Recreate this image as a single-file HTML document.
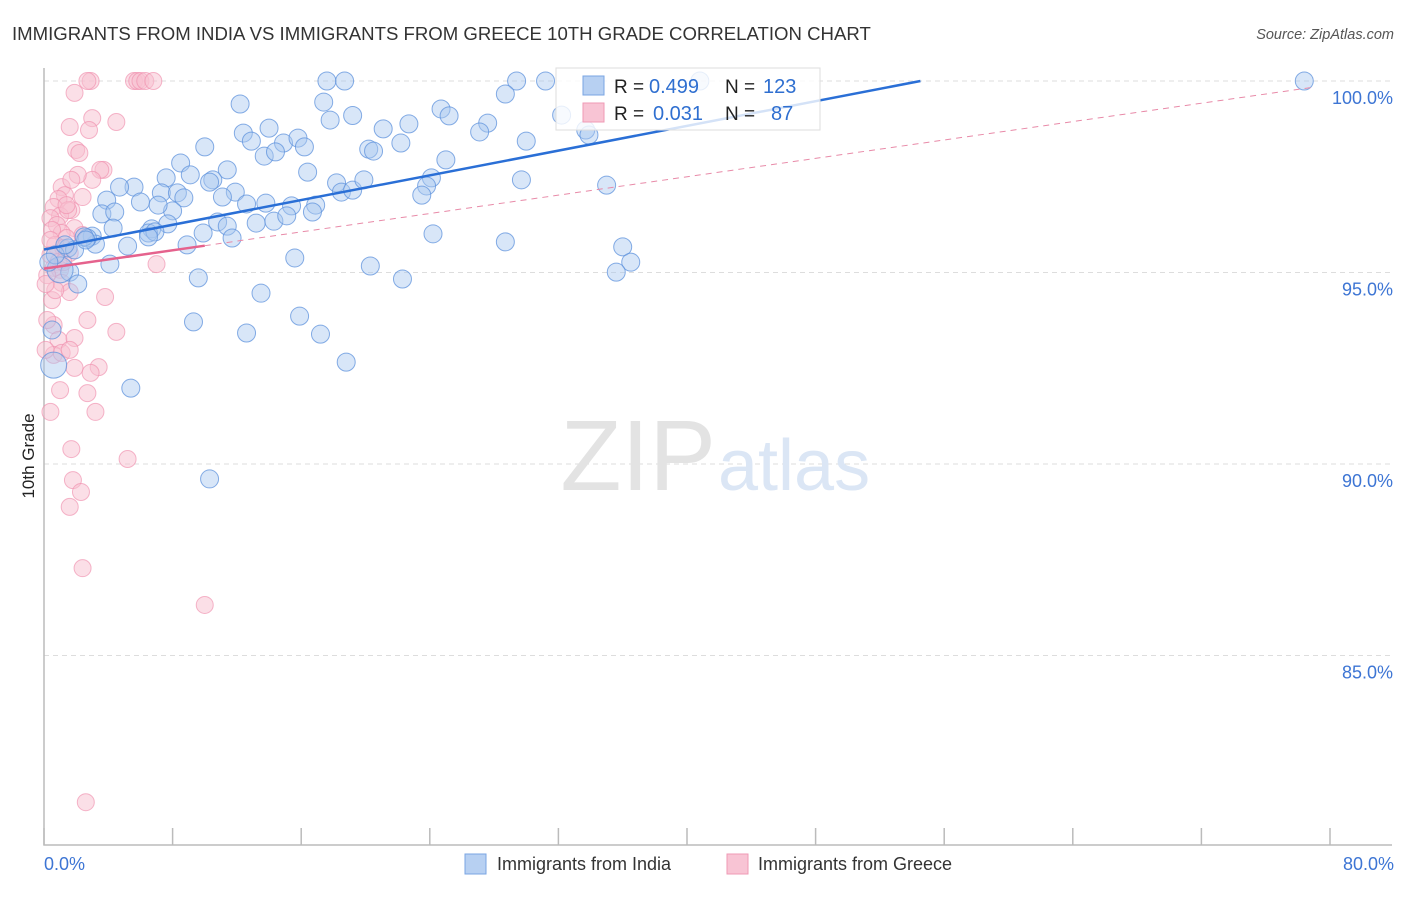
<!DOCTYPE html>
<html><head><meta charset="utf-8"><style>
body{margin:0;background:#fff;font-family:"Liberation Sans",sans-serif}
svg text{font-family:"Liberation Sans",sans-serif}
</style></head><body>
<svg id="c" width="1406" height="892" xmlns="http://www.w3.org/2000/svg">
<text x="12" y="40" font-size="18.6" fill="#333">IMMIGRANTS FROM INDIA VS IMMIGRANTS FROM GREECE 10TH GRADE CORRELATION CHART</text>
<text x="1394" y="39" font-size="14.5" fill="#555" font-style="italic" text-anchor="end">Source: ZipAtlas.com</text>
<g id="grid"></g>
<text x="716" y="490" font-size="100" fill="#e3e3e3" text-anchor="end" font-family="Liberation Serif">ZIP</text>
<text x="718" y="490" font-size="72" fill="#dbe6f5">atlas</text>
<g id="pts"></g>
<g id="lines"></g>
<text transform="translate(34,456) rotate(-90)" font-size="17" fill="#222" text-anchor="middle">10th Grade</text>
<g>
<rect x="556" y="68" width="264" height="62" fill="#fff" fill-opacity="0.8" stroke="#ddd"/>
<rect x="583" y="76" width="21" height="19" fill="#b7d0f2" stroke="#7aa5e3"/>
<rect x="583" y="103" width="21" height="19" fill="#f8c4d4" stroke="#ef9ab5"/>
<text x="614" y="93" font-size="19" fill="#222">R =</text>
<text x="649" y="93" font-size="20" fill="#2f6fd0">0.499</text>
<text x="725" y="93" font-size="19" fill="#222">N =</text>
<text x="763" y="93" font-size="20" fill="#2f6fd0">123</text>
<text x="614" y="120" font-size="19" fill="#222">R =</text>
<text x="653" y="120" font-size="20" fill="#2f6fd0">0.031</text>
<text x="725" y="120" font-size="19" fill="#222">N =</text>
<text x="771" y="120" font-size="20" fill="#2f6fd0">87</text>
</g>
<g>
<rect x="465" y="854" width="21" height="20" fill="#b7d0f2" stroke="#7aa5e3"/>
<text x="497" y="870" font-size="18" fill="#333">Immigrants from India</text>
<rect x="727" y="854" width="21" height="20" fill="#f8c4d4" stroke="#ef9ab5"/>
<text x="758" y="870" font-size="18" fill="#333">Immigrants from Greece</text>
</g>
</svg>
<script>
const yTicks=[100,95,90,85];
const yTickLabels=["100.0%","95.0%","90.0%","85.0%"];
const xTickVals=[0,8,16,24,32,40,48,56,64,72,80];
const xEndLabels=["0.0%","80.0%"];
const indiaX=[17.6,18.7,29.4,31.2,40.8,78.4,12.2,17.4,19.2,17.8,24.7,25.2,28.7,27.6,21.1,22.7,14.0,12.4,12.9,14.9,15.8,16.2,13.7,14.4,10.0,20.2,20.5,22.2,27.1,30.0,33.7,33.9,32.2,25.0,8.5,11.4,16.4,9.1,7.6,10.5,10.3,11.9,7.3,8.3,8.7,11.1,5.6,4.7,3.9,3.6,4.4,6.0,8.0,7.1,18.2,18.5,19.2,19.9,24.1,23.8,23.5,29.7,35.0,13.8,15.4,16.9,16.7,12.6,10.8,11.4,13.2,14.3,15.1,7.7,6.7,6.5,6.9,4.3,3.0,3.2,5.2,8.9,11.7,9.9,6.5,24.2,28.7,36.0,2.7,1.5,1.9,2.5,4.1,15.6,20.3,22.3,36.5,35.6,9.6,1.6,2.1,13.5,9.3,15.9,12.6,17.2,18.8,5.4,10.3,0.5,0.6,1.0,0.7,2.6,1.3,0.3];
const indiaY=[100,100,100,100,100,100,99.4,99.45,99.1,98.98,99.27,99.09,99.66,98.9,98.75,98.88,98.77,98.64,98.43,98.38,98.51,98.28,98.04,98.15,98.28,98.22,98.17,98.38,98.67,98.43,98.72,98.59,99.11,97.94,97.86,97.68,97.62,97.55,97.47,97.42,97.36,97.1,97.08,97.08,96.95,96.97,97.23,97.23,96.89,96.53,96.58,96.84,96.61,96.76,97.34,97.1,97.15,97.42,97.47,97.26,97.02,97.42,97.28,96.81,96.74,96.76,96.58,96.79,96.32,96.21,96.29,96.34,96.48,96.27,96.14,96.03,96.06,96.16,95.95,95.74,95.69,95.72,95.9,96.03,95.93,96.01,95.8,95.67,95.9,95.64,95.59,95.93,95.22,95.38,95.17,94.83,95.27,95.01,94.86,95.01,94.7,94.46,93.71,93.86,93.42,93.39,92.66,91.98,89.61,93.5,92.58,95.07,95.46,95.85,95.72,95.27];
const greeceX=[2.9,2.7,5.6,5.8,6.0,6.3,6.8,1.9,1.6,3.0,2.8,4.5,2.0,2.2,3.7,3.5,3.0,2.1,1.1,1.3,2.4,0.9,1.7,0.6,1.0,1.5,0.4,0.8,1.9,1.1,0.5,1.4,0.7,1.2,1.6,0.4,0.9,0.6,1.0,0.2,1.1,3.8,1.6,2.7,4.5,0.6,0.9,1.9,0.6,1.1,1.6,3.4,2.9,1.9,1.0,2.7,3.2,0.4,1.7,5.2,1.8,2.3,1.6,2.4,10.0,2.6,0.5,0.2,0.7,1.4,1.7,0.4,0.1,7.0,2.4,1.2,0.1];
const greeceY=[100,100,100,100,100,100,100,99.69,98.8,99.03,98.72,98.93,98.2,98.12,97.68,97.68,97.42,97.55,97.23,97.02,96.97,96.92,96.63,96.71,96.48,96.63,96.42,96.24,96.16,96.03,96.11,95.9,95.72,95.64,95.51,95.46,95.27,95.12,95.07,94.93,94.73,94.36,94.49,93.76,93.45,93.63,93.24,93.29,92.85,92.9,92.98,92.53,92.38,92.51,91.93,91.85,91.36,91.36,90.39,90.13,89.58,89.27,88.88,87.28,86.32,81.17,94.28,93.76,94.54,96.76,97.42,95.85,94.7,95.22,95.98,95.27,92.98];
const indiaTrend=[95.6,0.0807];
const greeceTrend=[95.1,0.06];

const NS="http://www.w3.org/2000/svg";
const X=v=>44+v*16.075;
const Y=v=>81+(100-v)*38.3;
function mk(t,a,p){const e=document.createElementNS(NS,t);for(const k in a)e.setAttribute(k,a[k]);p.appendChild(e);return e;}
const grid=document.getElementById('grid');
yTicks.forEach((t,i)=>{
 const l=mk('line',{x1:44,x2:1392,y1:Y(t),y2:Y(t),stroke:'#ddd','stroke-dasharray':'5,4'},grid);
 
 
 const tx=mk('text',{x:1393,y:Y(t)+23,'font-size':18,fill:'#3d75d4','text-anchor':'end'},grid);
 tx.textContent=yTickLabels[i];
 
 
});
const ax=mk('path',{d:'M44,68V845H1392',fill:'none',stroke:'#bbb','stroke-width':1.5},grid);


xTickVals.forEach(v=>{
 const t=mk('line',{x1:X(v),x2:X(v),y1:828,y2:845,stroke:'#bbb','stroke-width':1.5},grid);
 
 
});
[[0,'start',44],[80,'end',1394]].forEach((d,i)=>{
 const tx=mk('text',{x:d[2],y:870,'font-size':18,fill:'#3d75d4','text-anchor':d[1]},grid);
 tx.textContent=xEndLabels[i];
 
 
});
const pts=document.getElementById('pts');
greeceX.forEach((x,i)=>{
 const c=mk('circle',{cx:X(x),cy:Y(greeceY[i]),r:8.5,fill:'#f8bfd0','fill-opacity':0.5,stroke:'#ef8fae','stroke-opacity':0.65},pts);
 
 
});
indiaX.forEach((x,i)=>{
 const big=(i===110||i===111);
 const c=mk('circle',{cx:X(x),cy:Y(indiaY[i]),r:big?13:9,fill:'#a9c7ef','fill-opacity':0.45,stroke:'#5d91dc','stroke-opacity':0.75},pts);
 
 
});
const lines=document.getElementById('lines');
const iEnd=(100-indiaTrend[0])/indiaTrend[1];
const bl=mk('line',{x1:X(0),y1:Y(indiaTrend[0]),x2:X(iEnd),y2:Y(100),stroke:'#2a6fd6','stroke-width':2.5},lines);


const gd=mk('line',{x1:X(10),y1:Y(greeceTrend[0]+greeceTrend[1]*10),x2:X(78.8),y2:Y(greeceTrend[0]+greeceTrend[1]*78.8),stroke:'#e88aa8','stroke-width':1,'stroke-dasharray':'6,5'},lines);


const gl=mk('line',{x1:X(0),y1:Y(greeceTrend[0]),x2:X(10),y2:Y(greeceTrend[0]+greeceTrend[1]*10),stroke:'#e5628d','stroke-width':2.5},lines);


</script>
</body></html>
